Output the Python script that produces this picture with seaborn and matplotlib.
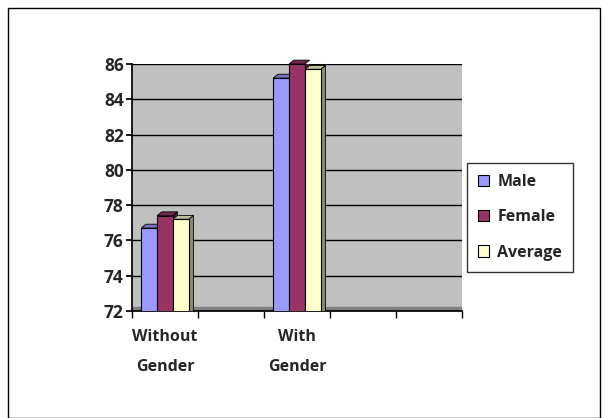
import matplotlib
matplotlib.use("Agg")
import matplotlib.pyplot as plt
import seaborn as sns
import pandas as pd
import numpy as np
from matplotlib.patches import Rectangle, Polygon
from matplotlib.ticker import FixedLocator
from matplotlib.colors import to_rgb

categories = ["Without\nGender", "With\nGender"]
slots = ["Without\nGender", " ", "With\nGender", "  ", "   "]
series = ["Male", "Female", "Average"]
male = [76.7, 85.2]
female = [77.4, 86.0]
average = [77.2, 85.7]
colors = ["#9999FF", "#993366", "#FFFFCC"]

df = pd.DataFrame({
    "category": categories * 3,
    "series": [s for s in series for _ in categories],
    "value": male + female + average,
})

sns.set_theme(style="white")
plt.rcParams["font.family"] = ["Open Sans", "DejaVu Sans"]

fig = plt.figure(figsize=(6.07, 4.18), dpi=100)
ax = fig.add_axes([132/607, 1-311/418, (462-132)/607, (311-64)/418])

sns.barplot(data=df, x="category", y="value", hue="series", order=slots,
            hue_order=series, palette=colors, saturation=1, width=0.72,
            edgecolor="black", linewidth=0.8, ax=ax, zorder=3, legend=True)

ax.set_facecolor("#C0C0C0")
ax.set_ylim(72, 86)
ax.set_xlim(-0.5, 4.5)
ax.set_yticks(np.arange(72, 87, 2))
ax.yaxis.grid(True, color="black", linewidth=1.0, zorder=0)
ax.set_axisbelow(True)
ax.set_xlabel("")
ax.set_ylabel("")

# pseudo-3D side and top faces derived from the drawn bars
dx, dy = 0.07, 0.22
for p in list(ax.patches):
    if p.get_height() <= 0 or p.get_width() <= 0:
        continue
    x0, y0 = p.get_x(), p.get_y()
    w, h = p.get_width(), p.get_height()
    c = np.array(to_rgb(p.get_facecolor()))
    side = Polygon([(x0 + w, y0), (x0 + w + dx, y0 + dy), (x0 + w + dx, y0 + h + dy),
                    (x0 + w, y0 + h)], closed=True, facecolor=c * 0.55,
                   edgecolor="black", linewidth=0.6, zorder=2.9)
    top = Polygon([(x0, y0 + h), (x0 + dx, y0 + h + dy), (x0 + w + dx, y0 + h + dy),
                   (x0 + w, y0 + h)], closed=True, facecolor=c * 0.75,
                  edgecolor="black", linewidth=0.6, zorder=2.9, clip_on=False)
    ax.add_patch(side)
    ax.add_patch(top)

# floor strip
ax.axhspan(72, 72 + dy, color="#808080", zorder=1)

for s in ["top", "right"]:
    ax.spines[s].set_visible(False)
ax.spines["left"].set_color("black")
ax.spines["bottom"].set_color("black")
ax.tick_params(axis="y", length=4, direction="out", left=True, color="black",
               labelsize=12.5, pad=2)
ax.tick_params(axis="x", which="major", length=0, labelsize=11.5, pad=13)
ax.xaxis.set_minor_locator(FixedLocator(np.arange(-0.5, 5.0, 1.0)))
ax.tick_params(axis="x", which="minor", length=5, bottom=True, color="black")
for lab in ax.get_yticklabels() + ax.get_xticklabels():
    lab.set_fontweight("bold")
for lab in ax.get_xticklabels():
    lab.set_linespacing(2.2)

leg = ax.legend(loc="upper left", bbox_to_anchor=(467/607, 1-163/418),
                bbox_transform=fig.transFigure, frameon=True, fancybox=False,
                edgecolor="black", prop={"weight": "bold", "size": 11.5},
                handlelength=0.7, handleheight=0.7, labelspacing=1.2,
                borderpad=0.7, handletextpad=0.5, borderaxespad=0)
leg.get_frame().set_linewidth(1.0)

fig.patches.append(Rectangle((8/607, 0.0), (600-8)/607, 1-8/418,
                             transform=fig.transFigure, fill=False,
                             edgecolor="black", linewidth=1.0))

fig.savefig("out.png", dpi=100)
